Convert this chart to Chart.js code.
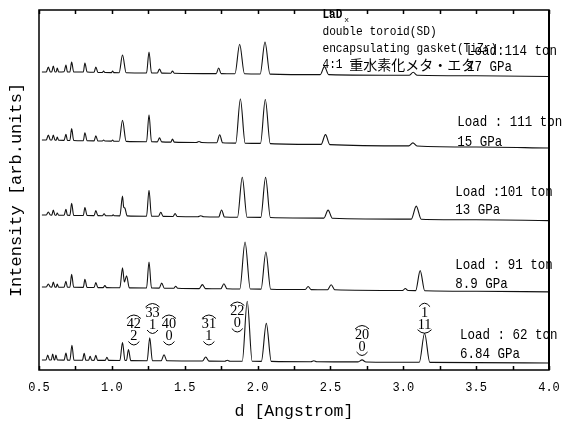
<!DOCTYPE html>
<html>
<head>
<meta charset="utf-8">
<script src="https://cdn.jsdelivr.net/npm/chart.js@4.4.1/dist/chart.umd.min.js"></script>
<style>
  html, body { margin: 0; padding: 0; background: #fff; }
</style>
</head>
<body>
<canvas id="grafico" width="563" height="422"></canvas>
<script>
// perfiles de difraccion [d, intensidad relativa], de arriba (17 GPa) a abajo (6.84 GPa)
const traza17 = [[0.52,0],[0.55,0],[0.564,5],[0.578,0],[0.588,0.3],[0.598,6],[0.61,0],[0.618,0],[0.625,4],[0.635,0],[0.672,0.3],[0.685,7],[0.695,0],[0.712,0],[0.724,10],[0.738,0],[0.804,0],[0.815,9],[0.83,0],[0.878,-0.3],[0.89,5],[0.904,-0.4],[0.935,-0.5],[0.943,1],[0.952,-0.5],[0.998,-0.6],[1.005,1],[1.013,-0.6],[1.05,-0.7],[1.073,17],[1.098,-0.8],[1.238,-1],[1.255,20],[1.272,-1],[1.312,-1],[1.327,3],[1.342,-1.1],[1.405,-1.2],[1.416,1],[1.428,-1.2],[1.716,-1.6],[1.733,4],[1.75,-1.6],[1.845,-1.8],[1.877,27.7],[1.91,-1.8],[2.018,-2],[2.051,30],[2.085,-2.1],[2.43,-2.6],[2.459,5.4],[2.488,-2.6],[3.04,-3.3],[3.068,-0.3],[3.096,-3.3],[3.5,-3.8],[4.0,-4.5]];
const traza15 = [[0.52,0],[0.55,0],[0.564,5],[0.578,0],[0.588,0],[0.598,5],[0.61,-0.1],[0.618,-0.1],[0.625,3],[0.635,-0.3],[0.672,-0.4],[0.685,5.6],[0.695,-0.4],[0.712,-0.5],[0.724,11.5],[0.738,-0.5],[0.804,-0.7],[0.815,7.3],[0.83,-0.8],[0.878,-0.9],[0.89,4.1],[0.904,-0.9],[0.935,-1],[0.943,0],[0.952,-1],[0.998,-1.1],[1.005,0],[1.013,-1.2],[1.05,-1.3],[1.073,19.7],[1.098,-1.4],[1.238,-1.7],[1.255,25.3],[1.272,-1.8],[1.312,-1.9],[1.327,2.1],[1.342,-1.9],[1.405,-2.1],[1.416,1],[1.428,-2.1],[1.58,-2.5],[1.598,-1.5],[1.616,-2.5],[1.72,-2.7],[1.74,5.3],[1.76,-2.8],[1.85,-3.1],[1.882,41],[1.915,-3.2],[2.02,-3.4],[2.053,40.5],[2.087,-3.6],[2.436,-4.4],[2.466,5.4],[2.496,-4.6],[3.038,-5.9],[3.066,-2.9],[3.094,-6],[3.5,-7],[4.0,-8]];
const traza13 = [[0.52,0],[0.55,0],[0.564,3],[0.578,0],[0.588,-0.1],[0.598,5],[0.61,-0.2],[0.618,-0.2],[0.625,2],[0.635,-0.2],[0.672,-0.3],[0.685,5.7],[0.695,-0.3],[0.712,-0.4],[0.724,11.6],[0.738,-0.4],[0.804,-0.5],[0.815,7.5],[0.83,-0.5],[0.878,-0.6],[0.89,4.4],[0.904,-0.6],[0.935,-0.7],[0.947,1.3],[0.958,-0.7],[1.0,-0.8],[1.009,0.2],[1.018,-0.8],[1.055,-0.9],[1.073,19],[1.081,8],[1.089,7],[1.105,-0.9],[1.238,-1.2],[1.255,24.8],[1.272,-1.2],[1.32,-1.3],[1.336,2.7],[1.352,-1.4],[1.42,-1.5],[1.434,1.5],[1.448,-1.5],[1.59,-1.7],[1.61,-0.7],[1.63,-1.8],[1.733,-2],[1.753,5],[1.773,-2],[1.862,-2.2],[1.895,37.8],[1.928,-2.3],[2.022,-2.4],[2.055,37.6],[2.088,-2.5],[2.455,-3.1],[2.484,4.9],[2.513,-3.2],[3.055,-4.1],[3.089,8.9],[3.123,-4.2],[3.5,-4.8],[4.0,-5.6]];
const traza89 = [[0.52,0],[0.55,0],[0.564,3],[0.578,0],[0.588,-0.1],[0.598,5],[0.61,-0.1],[0.618,-0.2],[0.625,3],[0.635,-0.2],[0.672,-0.2],[0.685,5.8],[0.695,-0.3],[0.712,-0.3],[0.724,12.7],[0.738,-0.3],[0.804,-0.4],[0.815,7.6],[0.83,-0.5],[0.878,-0.5],[0.89,4.5],[0.904,-0.6],[0.94,-0.6],[0.952,1.4],[0.964,-0.6],[1.055,-0.8],[1.073,19.2],[1.086,5],[1.101,11.2],[1.12,-0.9],[1.238,-1],[1.255,25],[1.272,-1],[1.325,-1.1],[1.342,3.9],[1.36,-1.2],[1.425,-1.3],[1.438,0.7],[1.452,-1.3],[1.6,-1.6],[1.621,2.4],[1.642,-1.6],[1.748,-1.8],[1.769,3.2],[1.79,-1.8],[1.878,-2],[1.914,45],[1.95,-2],[2.024,-2.1],[2.057,35],[2.09,-2.2],[2.327,-2.5],[2.347,0.5],[2.367,-2.6],[2.48,-2.8],[2.505,2.2],[2.53,-2.8],[2.995,-3.5],[3.014,-1.5],[3.033,-3.5],[3.085,-3.6],[3.116,16.4],[3.147,-3.7],[3.5,-4.2],[4.0,-4.9]];
const traza684 = [[0.52,0],[0.548,0],[0.56,5],[0.572,0],[0.584,0],[0.594,6],[0.604,0],[0.608,0],[0.616,5],[0.626,0],[0.672,-0.1],[0.685,6.9],[0.696,-0.1],[0.712,-0.2],[0.726,14.8],[0.74,-0.2],[0.798,-0.3],[0.81,6.7],[0.822,-0.3],[0.84,-0.3],[0.851,3.7],[0.862,-0.3],[0.878,-0.4],[0.89,4.6],[0.902,-0.4],[0.954,-0.4],[0.966,2.6],[0.978,-0.4],[1.055,-0.5],[1.073,17.5],[1.09,-0.3],[1.1,-0.5],[1.114,10.5],[1.13,-0.6],[1.242,-0.7],[1.26,22.3],[1.278,-0.7],[1.338,-0.8],[1.358,5.2],[1.378,-0.8],[1.622,-1],[1.644,3],[1.666,-1.1],[1.775,-1.2],[1.792,-0.2],[1.81,-1.2],[1.895,-1.3],[1.929,58.7],[1.963,-1.3],[2.026,-1.4],[2.06,36.6],[2.094,-1.4],[2.366,-1.7],[2.386,-0.7],[2.406,-1.7],[2.69,-1.9],[2.717,0.1],[2.744,-2],[3.11,-2.3],[3.146,26.7],[3.182,-2.4],[3.5,-2.6],[4.0,-3]];

const trazas = [traza17, traza15, traza13, traza89, traza684];
const desplazamientos = [298, 230, 155, 83, 10];

// rotulos de carga / presion para cada traza
const cargas = ['Load:114 ton', 'Load : 111 ton', 'Load :101 ton', 'Load : 91 ton', 'Load : 62 ton'];
const presiones = ['17 GPa', '15 GPa', '13 GPa', '8.9 GPa', '6.84 GPa'];
const cargasD = [3.438, 3.37, 3.356, 3.356, 3.39];
const cargasY = [318.5, 248, 178.3, 105, 35];
const presionesY = [303, 227.5, 160, 86, 16];

// indices de Miller sobre la traza inferior
const hklArriba = ['42', '33', '40', '31', '22', '20', '1'];
const hklAbajo = ['2', '1', '0', '1', '0', '0', '11'];
const hklD = [1.151, 1.279, 1.392, 1.666, 1.861, 2.717, 3.146];
const hklY = [45.5, 57, 45.5, 45.5, 58.5, 35, 57.3];

// bloque de notas arriba
const notaD = 2.445;
const notas = ['double toroid(SD)', 'encapsulating gasket(TiZr)'];
const notasY = [339, 321.5];
const notaMuestra = '4:1 ';
const notaMuestraJa = '重水素化メタ・エタ';
const notaMuestraY = 305.5;
const compuestoY = 355;

const MONO = '"Liberation Mono", "DejaVu Sans Mono", monospace';
const SERIF = '"Liberation Serif", "DejaVu Serif", serif';
const TINTA = '#000';

const datasets = trazas.map((t, i) => ({
  data: t.map(([d, r]) => ({ x: d, y: desplazamientos[i] + r })),
  borderColor: '#111',
  borderWidth: 1.1,
  pointRadius: 0,
  cubicInterpolationMode: 'monotone',
  fill: false
}));

// texto estrecho tipo mincho: se escala solo en horizontal
function textoEstrecho(ctx, txt, x, y, sx) {
  ctx.save();
  ctx.translate(x, y);
  ctx.scale(sx, 1);
  ctx.fillText(txt, 0, 0);
  ctx.restore();
}

const rotulos = {
  id: 'rotulos',
  afterDatasetsDraw(chart) {
    const ctx = chart.ctx;
    const x = chart.scales.x, y = chart.scales.y;
    ctx.save();
    ctx.fillStyle = TINTA;
    ctx.strokeStyle = TINTA;
    ctx.lineWidth = 1;
    ctx.textBaseline = 'middle';

    // cargas
    ctx.textAlign = 'left';
    ctx.font = '15px ' + MONO;
    cargas.forEach((c, i) => {
      const px = x.getPixelForValue(cargasD[i]);
      textoEstrecho(ctx, c, px, y.getPixelForValue(cargasY[i]), 0.833);
      textoEstrecho(ctx, presiones[i], px, y.getPixelForValue(presionesY[i]), 0.833);
    });

    // indices hkl
    ctx.textAlign = 'center';
    ctx.font = '15px ' + SERIF;
    hklArriba.forEach((h, i) => {
      const cx = x.getPixelForValue(hklD[i]);
      const ty = y.getPixelForValue(hklY[i]);
      const by = ty + 12;
      textoEstrecho(ctx, h, cx, ty, 0.95);
      textoEstrecho(ctx, hklAbajo[i], cx, by, 0.95);
      const w1 = h.length > 1 ? 7 : 5.5;
      const w2 = hklAbajo[i].length > 1 ? 7 : 5.5;
      ctx.beginPath();
      ctx.moveTo(cx - w1, ty - 6);
      ctx.quadraticCurveTo(cx, ty - 13, cx + w1, ty - 6);
      ctx.stroke();
      ctx.beginPath();
      ctx.moveTo(cx - w2, by + 5);
      ctx.quadraticCurveTo(cx, by + 12, cx + w2, by + 5);
      ctx.stroke();
    });

    // notas
    ctx.textAlign = 'left';
    const nx = x.getPixelForValue(notaD);
    ctx.font = 'bold 13px ' + MONO;
    const ly = y.getPixelForValue(compuestoY);
    textoEstrecho(ctx, 'LaD', nx, ly, 0.85);
    const wLaD = ctx.measureText('LaD').width * 0.85;
    ctx.font = '8px ' + MONO;
    ctx.fillText('x', nx + wLaD + 2, ly + 5);
    ctx.font = '13.5px ' + MONO;
    notas.forEach((n, i) => textoEstrecho(ctx, n, nx, y.getPixelForValue(notasY[i]), 0.83));
    const my = y.getPixelForValue(notaMuestraY);
    textoEstrecho(ctx, notaMuestra, nx, my, 0.83);
    const wm = ctx.measureText(notaMuestra).width * 0.83;
    ctx.font = '14px "Noto Sans CJK JP", sans-serif';
    ctx.fillText(notaMuestraJa, nx + wm, my);
    ctx.restore();
  }
};

const marco = {
  id: 'marco',
  afterDraw(chart) {
    const ctx = chart.ctx;
    const a = chart.chartArea;
    const x = chart.scales.x;
    ctx.save();
    ctx.strokeStyle = '#000';
    ctx.lineWidth = 1.5;
    ctx.strokeRect(a.left, a.top, a.right - a.left, a.bottom - a.top);
    ctx.lineWidth = 2;
    ctx.beginPath();
    ctx.moveTo(a.right, a.top);
    ctx.lineTo(a.right, a.bottom);
    ctx.stroke();
    // marcas hacia dentro, arriba y abajo
    ctx.lineWidth = 1.5;
    x.ticks.forEach(t => {
      const px = Math.round(x.getPixelForValue(t.value)) + 0.5;
      ctx.beginPath();
      ctx.moveTo(px, a.bottom);
      ctx.lineTo(px, a.bottom - 4);
      ctx.moveTo(px, a.top);
      ctx.lineTo(px, a.top + 4);
      ctx.stroke();
    });
    ctx.restore();
  }
};

new Chart(document.getElementById('grafico'), {
  type: 'line',
  data: { datasets },
  options: {
    responsive: false,
    animation: false,
    layout: { padding: { top: 10, right: 14, left: 5, bottom: 0 } },
    plugins: { legend: { display: false }, tooltip: { enabled: false } },
    scales: {
      x: {
        type: 'linear',
        min: 0.5,
        max: 4.0,
        grid: { display: false, drawTicks: true, tickLength: 8.3 },
        border: { display: false },
        ticks: {
          stepSize: 0.25,
          autoSkip: false,
          maxRotation: 0,
          padding: 2,
          color: TINTA,
          font: { family: MONO, size: 12 },
          callback: v => (Math.abs(v * 2 - Math.round(v * 2)) < 1e-9 ? v.toFixed(1) : '')
        },
        title: {
          display: true,
          text: 'd [Angstrom]',
          color: TINTA,
          font: { family: MONO, size: 16.5 },
          padding: { top: 5.5, bottom: 0 }
        }
      },
      y: {
        min: 0,
        max: 360,
        grid: { display: false, drawTicks: false },
        border: { display: false },
        ticks: { display: false },
        title: {
          display: true,
          text: 'Intensity [arb.units]',
          color: TINTA,
          font: { family: MONO, size: 17 },
          padding: { top: 1, bottom: 12.6 }
        }
      }
    }
  },
  plugins: [rotulos, marco]
});
</script>
</body>
</html>
